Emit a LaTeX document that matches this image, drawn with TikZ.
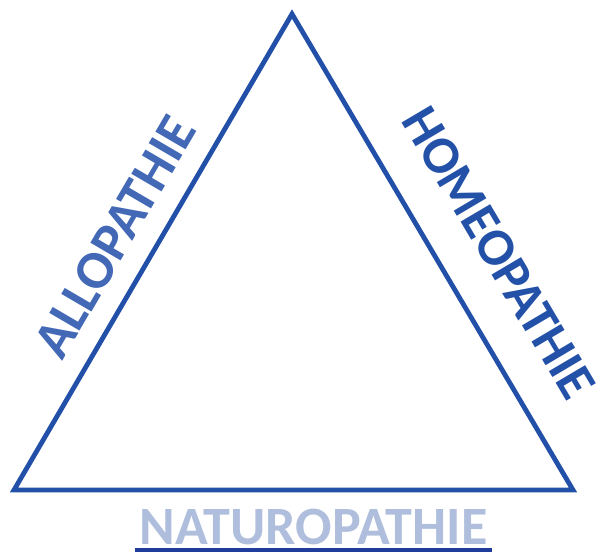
\documentclass[tikz,border=0pt]{standalone}
\usepackage{fontspec}
\setmainfont{Carlito}
\definecolor{tri}{HTML}{2250A8}
\definecolor{allo}{HTML}{4268B6}
\definecolor{homeo}{HTML}{2451A8}
\definecolor{natu}{HTML}{AEBEDC}
\definecolor{uline}{HTML}{203C9C}
\tikzset{
  lbl/.style={inner sep=0pt, font=\bfseries\fontsize{54}{54}\selectfont},
}
\begin{document}
\begin{tikzpicture}[x=1pt,y=-1pt]
\useasboundingbox (0,0) rectangle (602,556);
\coordinate (T) at (292,14);
\coordinate (L) at (14,490);
\coordinate (R) at (573,490);
\draw[tri, line width=4.8pt, line join=miter] (T) -- (L) -- (R) -- cycle;
\node[lbl, text=allo, rotate=59.7] (allo) at (115,237) {ALLOPATHIE};
\node[lbl, text=homeo, rotate=-59.4, font=\bfseries\fontsize{53}{53}\selectfont] (homeo) at (499,253) {HOMEOPATHIE};
\node[lbl, text=natu, anchor=base, text depth=0pt, text height=36pt] (natu) at (313.5,544) {NATUROPATHIE};
\coordinate (u1) at (135,550);
\coordinate (u2) at (492,550);
\draw[uline, line width=4pt] (u1) -- (u2);
\end{tikzpicture}
\end{document}
